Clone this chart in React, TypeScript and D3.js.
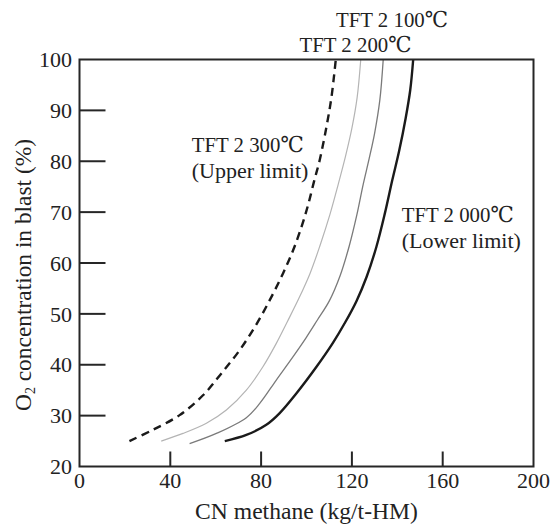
import React from 'react';
import * as d3 from 'd3';

const xTicks = [0, 40, 80, 120, 160, 200];
const yTicks = [20, 30, 40, 50, 60, 70, 80, 90, 100];

// TFT 2 300℃ (Upper limit) – dashed
const t300X = [22, 32.3, 44.1, 54.4, 62.5, 70.6, 78, 84.5, 89.7, 94.1, 97.8, 100.7, 103.3, 105.8, 108.8, 111, 112.9];
const t300Y = [25, 27.2, 30.1, 34, 38.3, 42.9, 48, 53.3, 58, 62.5, 67.1, 71.4, 76, 80.2, 86.8, 92.6, 100];

// TFT 2 100℃ – light gray
const t100X = [36, 45.6, 55.9, 64.7, 73.5, 80.8, 86.7, 91.6, 96.6, 101.6, 106, 110.3, 114, 117.2, 120, 122.3, 123.9];
const t100Y = [25, 26.5, 28.5, 31.1, 35, 39.6, 44.2, 48.5, 53, 58, 63.5, 69.5, 75.5, 81, 86.5, 92.5, 100];

// TFT 2 200℃ – medium gray
const t200X = [48.5, 60.3, 73.5, 79.4, 86.7, 94.1, 99.8, 104.8, 110, 114.8, 118.8, 122.2, 125, 127.6, 130, 132.3, 133.8];
const t200Y = [24.5, 26.5, 29.6, 32.4, 37, 41.6, 45.3, 48.8, 52.5, 57.5, 63.3, 69.5, 75.5, 80.5, 85.5, 92, 100];

// TFT 2 000℃ (Lower limit) – black
const t000X = [64, 73.5, 82.3, 88.2, 95.6, 104.4, 111.5, 117, 122, 126.5, 130.8, 134.5, 137.8, 140.8, 143.7, 145.7, 147];
const t000Y = [25, 26.2, 28.2, 30.5, 34.4, 39.6, 44.2, 48.3, 52.5, 57.3, 63.2, 69.7, 76.3, 82, 88.5, 94, 100];

const FONT = "'Liberation Serif', 'Times New Roman', 'DejaVu Serif', serif";

export default function App() {
  const W = 555, H = 525;
  const x = d3.scaleLinear().domain([0, 200]).range([79.5, 533.5]);
  const y = d3.scaleLinear().domain([20, 100]).range([466.5, 59.5]);
  const line = d3
    .line<[number, number]>()
    .x((d) => x(d[0]))
    .y((d) => y(d[1]))
    .curve(d3.curveCatmullRom.alpha(0.5));
  const zip = (a: number[], b: number[]) => a.map((v, i) => [v, b[i]] as [number, number]);

  const series = [
    { d: zip(t100X, t100Y), stroke: '#b4b4b4', w: 1.2, dash: undefined },
    { d: zip(t200X, t200Y), stroke: '#7a7a7a', w: 1.3, dash: undefined },
    { d: zip(t000X, t000Y), stroke: '#1a1a1a', w: 2.4, dash: undefined },
    { d: zip(t300X, t300Y), stroke: '#1a1a1a', w: 2.4, dash: '8 5.5' },
  ];

  const [x0, x1] = x.range();
  const [y0, y1] = y.range();
  const ink = '#262626';

  return (
    <svg width={W} height={H} style={{ position: 'absolute', left: 0, top: 0, background: '#fff' }} fontFamily={FONT}>
      {series.map((s, i) => (
        <path key={i} d={line(s.d) || ''} fill="none" stroke={s.stroke} strokeWidth={s.w} strokeDasharray={s.dash} />
      ))}
      {/* ticks */}
      {yTicks.slice(1, -1).map((t) => (
        <line key={'yt' + t} x1={x0} x2={x0 + 26} y1={y(t)} y2={y(t)} stroke={ink} strokeWidth={2} />
      ))}
      {xTicks.slice(1, -1).map((t) => (
        <line key={'xt' + t} x1={x(t)} x2={x(t)} y1={y0} y2={y0 - 15} stroke={ink} strokeWidth={2} />
      ))}
      <rect x={x0} y={y1} width={x1 - x0} height={y0 - y1} fill="none" stroke={ink} strokeWidth={2} />
      {/* tick labels */}
      {yTicks.map((t) => (
        <text key={'yl' + t} x={72} y={y(t)} dy="0.35em" textAnchor="end" fontSize={22} fill="#222">
          {t}
        </text>
      ))}
      {xTicks.map((t) => (
        <text key={'xl' + t} x={x(t)} y={488} textAnchor="middle" fontSize={22} fill="#222">
          {t}
        </text>
      ))}
      {/* axis titles */}
      <text x={(x0 + x1) / 2} y={519} textAnchor="middle" fontSize={23.6} fill="#222">
        CN methane (kg/t-HM)
      </text>
      <text transform={`translate(31, ${(y0 + y1) / 2 + 12}) rotate(-90)`} textAnchor="middle" fontSize={23.4} fill="#222">
        O<tspan fontSize={14} dy={4}>2</tspan>
        <tspan dy={-4}> concentration in blast (%)</tspan>
      </text>
      {/* annotations */}
      <g fontSize={22} fill="#222">
        <text x={336} y={27} textLength={112} lengthAdjust="spacingAndGlyphs">TFT 2 100℃</text>
        <text x={299.5} y={52} textLength={112} lengthAdjust="spacingAndGlyphs">TFT 2 200℃</text>
        <text x={191.7} y={151.7} textLength={112} lengthAdjust="spacingAndGlyphs">TFT 2 300℃</text>
        <text x={191.7} y={178}>(Upper limit)</text>
        <text x={401.7} y={222} textLength={112} lengthAdjust="spacingAndGlyphs">TFT 2 000℃</text>
        <text x={401.7} y={248}>(Lower limit)</text>
      </g>
    </svg>
  );
}
